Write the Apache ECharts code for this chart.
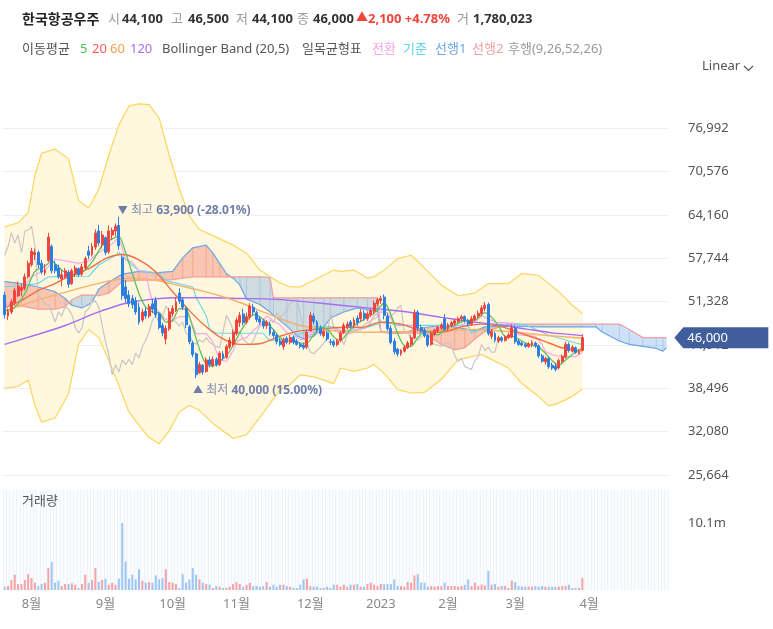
<!DOCTYPE html>
<html>
<head>
<meta charset="utf-8">
<script src="https://cdn.jsdelivr.net/npm/echarts@6/dist/echarts.min.js"></script>
<style>
  html, body { margin: 0; padding: 0; background: #fff; }
  #chart { width: 773px; height: 629px; }
</style>
</head>
<body>
<div id="chart"></div>
<script>
// ---- data ----
// daily candles: [open, close, low, high]
const candles = [
  [52300,49400,48800,52800],[49200,49900,48600,50300],[49800,51300,49500,51700],[51200,53000,50800,53400],
  [52200,53600,52000,54300],[53000,53400,52200,53900],[53300,55000,53000,55500],[55000,57000,54700,57400],
  [56800,58800,56500,59300],[58300,58600,57500,59200],[58600,56800,56300,58900],[57000,55700,55400,57500],
  [55600,56000,55200,56900],[57400,60900,57200,61500],[59500,55900,55500,59800],[56800,55900,55500,57300],
  [56300,55000,54700,56800],[54700,55300,53600,56000],[55000,55900,54800,56300],[55700,53900,53400,56000],
  [54000,55900,53800,56200],[55500,56300,55000,56700],[56200,55300,55000,56400],[55400,56500,55100,56900],
  [56300,57700,56000,58000],[58800,58200,57600,59600],[58300,59500,58000,60000],[59400,61500,59000,62000],
  [61800,60000,59600,62700],[59800,61200,59200,61800],[60800,58600,58200,61000],[58700,61800,58400,62600],
  [61200,61900,60500,62300],[61800,62500,61000,62900],[62600,59600,59000,63900],[57800,52200,51600,58200],
  [53500,51800,51200,54500],[52300,51000,50500,53000],[51800,50900,50300,52300],[51500,49800,49400,52000],
  [50500,48300,47900,51200],[48600,49800,48300,50300],[49900,49200,48800,50500],[49200,50600,48900,51000],
  [51000,50200,49600,51700],[51500,49400,49000,52000],[49500,47500,47200,49700],[47800,46700,46200,48200],
  [45800,47400,45000,47800],[47300,49800,47000,50400],[49500,50300,49100,50800],[50000,51300,49800,51900],
  [52600,51400,51000,53300],[51600,50500,50100,52000],[50300,47900,47400,50600],[47600,45400,45000,47900],
  [45200,43500,43100,45500],[43600,40500,40000,43800],[40800,42000,40600,42400],[41900,40900,40500,42100],
  [41000,42700,40800,43100],[42700,42000,41600,43200],[41900,42800,41600,43200],[42800,42000,41700,43100],
  [42000,43700,41800,44000],[43600,43000,42700,44000],[43100,44700,42900,45000],[44600,45600,44300,46000],
  [45000,46800,44700,47200],[46600,48600,46300,49000],[48200,49300,47600,49800],[49500,48200,47800,50300],
  [48300,49100,48000,49700],[49000,50700,48700,51100],[50500,49800,49300,51000],[49700,48700,48300,50000],
  [48800,48300,47900,49200],[48400,47700,47300,48800],[47800,48300,47300,48600],[48000,46600,46300,48300],
  [46800,46300,46000,47200],[46300,45400,45000,46600],[45500,45000,44700,45900],[44700,45700,44200,46000],
  [45900,45300,45000,46200],[45300,46000,45000,46400],[46000,45300,45000,46300],[45500,45000,44800,45800],
  [45000,44700,44400,45300],[44900,44500,44200,45200],[44600,46800,44300,47200],[47000,49300,46900,49800],
  [49200,48400,48000,49600],[48300,47200,46800,48600],[47300,46600,46300,47800],[46300,46900,46000,47200],
  [46700,45800,45500,47000],[45400,45300,44900,45800],[45400,44900,44600,45700],[45000,45500,44700,45800],
  [45600,46700,45300,47000],[46700,47800,46500,48200],[47600,48000,47200,48400],[48300,47700,47400,48600],
  [47800,48600,47500,49000],[48900,48200,47800,49300],[48800,49700,48300,50200],[49600,48900,48500,50000],
  [48800,49500,48500,49900],[49400,50000,49100,50300],[49900,51100,49500,51500],[51000,51600,50600,51900],
  [51500,51800,51000,52200],[52000,49300,48700,52400],[49200,47300,47000,49600],[47400,45300,45000,47800],
  [45500,43900,43500,45900],[44300,43600,43200,44500],[43600,44100,43300,44300],[44000,44600,43800,44900],
  [44500,45200,44300,45500],[45000,46000,44700,46400],[46000,49700,45800,50200],[49800,47400,47000,50100],
  [47500,47000,46700,47900],[47100,46300,46000,47400],[46300,44900,44600,46600],[45000,46600,44800,46900],
  [46500,47100,46200,47300],[47000,47500,46700,47800],[47400,47900,47100,48200],[48800,47200,47000,49500],
  [47300,47900,47000,48200],[47800,48200,47500,48500],[48100,48500,47800,48800],[48400,48800,48100,49100],
  [48800,49100,48500,49400],[49100,48500,48200,49300],[48500,48000,47700,48800],[48000,48800,47800,49200],
  [48700,49200,48400,49500],[49200,49600,48900,50000],[49500,50400,49200,50800],[50300,50800,49900,51300],
  [50900,46600,46300,51200],[46200,46900,45800,47300],[46600,45600,45300,46900],[45500,46000,45200,46300],
  [46000,45600,45300,46200],[45600,46100,45400,46400],[46000,46400,45800,46700],[46100,47500,45900,48000],
  [47400,45400,45100,47800],[45500,45000,44800,45800],[45200,44900,44700,45400],[45000,44700,44500,45200],
  [44700,45100,44500,45300],[44900,45300,44600,45600],[45200,44800,44500,45400],[44800,43300,43000,45000],
  [43300,42500,42300,43600],[42400,42900,42000,43200],[42900,41700,41400,43200],[41900,41500,41200,42300],
  [41800,41300,41000,42200],[41500,42600,41300,42900],[42500,43200,42200,43500],[43100,45000,42900,45400],
  [45000,44100,43800,45300],[44000,44600,43800,44900],[44500,43800,43600,44700],[43700,43900,43500,44300],
  [44100,46000,44100,46500]
];

// daily volume, millions of shares
const volumes = [
  0.5,0.6,1.5,2.3,0.9,0.9,1.5,2.4,1.8,1.1,0.6,0.9,1.1,3.3,4.2,1.1,1.4,0.6,0.9,0.9,
  1.0,0.8,0.3,0.9,2.3,1.1,1.5,3.3,1.2,1.5,1.7,0.8,1.1,0.8,1.7,10.1,4.3,1.7,2.3,1.6,
  3.1,1.4,1.1,1.2,1.1,2.2,1.6,1.8,3.1,1.2,1.1,0.9,0.3,2.4,1.1,1.6,3.3,2.3,1.6,1.1,
  0.9,0.8,0.3,0.6,0.5,0.3,0.3,0.5,0.9,1.2,0.9,0.5,0.8,1.1,0.6,0.6,0.5,0.6,1.2,0.5,
  0.8,0.5,0.8,0.8,0.6,0.5,0.3,0.3,0.8,1.6,1.7,0.6,0.5,0.5,0.3,0.3,0.5,0.3,0.8,0.8,
  0.5,0.8,0.5,0.8,0.8,0.9,0.5,0.5,0.9,1.1,0.8,0.6,0.9,0.9,0.9,0.9,1.6,0.6,0.6,0.5,
  1.2,1.1,2.2,2.4,1.1,1.1,0.5,0.6,0.5,0.6,0.6,1.1,0.6,0.6,0.6,0.5,0.6,0.8,1.6,0.6,
  1.1,0.6,0.8,0.7,2.9,0.8,0.9,0.5,0.6,0.6,0.3,1.4,1.2,0.6,0.5,0.5,0.5,0.5,0.6,0.5,
  0.6,0.5,0.5,0.5,0.5,0.5,0.6,0.6,0.8,0.3,0.3,0.3,1.78
];

// moving averages, read as [day, value]
const ma5 = [
  [0,50000],[3,50500],[6,52500],[9,55800],[12,56600],[14,57300],[17,56000],[20,55200],[23,55600],
  [26,57200],[29,59600],[32,60600],[34,61000],[36,58600],[38,55500],[40,52500],[42,50500],[44,49800],
  [46,49700],[48,48300],[50,48500],[52,50300],[54,50200],[56,47500],[58,44300],[60,42000],[62,41800],
  [64,42500],[66,43300],[68,44800],[70,46700],[72,48300],[74,49400],[76,49100],[78,48200],[80,47200],
  [82,46000],[84,45500],[86,45600],[88,45200],[90,45200],[92,46400],[94,47500],[96,47300],[98,46100],
  [100,45600],[102,46600],[104,47800],[106,48400],[108,49000],[110,49600],[112,50700],[113,51200],
  [115,49400],[117,46600],[119,44800],[121,44700],[123,46000],[125,46900],[127,46800],[129,46400],
  [131,47300],[134,47900],[137,48500],[140,48600],[143,49700],[145,49000],[147,47800],[149,46200],
  [151,46200],[153,45800],[155,45200],[157,44900],[159,44600],[161,43700],[163,42600],[165,41900],
  [167,42700],[169,43500],[172,44500]
];
const ma20 = [
  [0,50400],[5,51500],[10,53000],[15,54000],[20,55300],[25,56200],[30,57700],[35,58300],[40,57500],
  [45,55700],[50,52800],[55,50000],[60,47600],[65,45800],[70,45000],[76,45100],[82,46200],[88,47000],
  [94,47300],[100,47500],[106,47500],[112,48300],[118,48000],[124,47000],[130,46800],[136,47600],
  [142,48000],[148,47600],[154,46600],[160,45600],[166,44500],[172,44000]
];
const ma60 = [
  [0,49900],[10,51600],[20,53000],[30,54300],[38,54800],[45,54500],[52,53700],[58,53000],[64,52200],
  [70,51200],[76,50000],[82,48800],[88,47800],[94,47300],[100,46900],[110,46800],[120,46900],
  [130,47000],[140,47200],[150,46900],[160,46400],[172,45900]
];
const ma120 = [
  [0,45000],[10,46500],[18,47800],[28,49800],[37,51200],[50,51900],[60,51900],[70,51800],[80,51700],
  [90,51300],[100,50800],[110,50300],[120,49800],[130,49000],[140,48300],[147,47900],[155,47300],
  [163,46700],[172,46300]
];

// Bollinger band (20,5): [day, upper, lower]
const bollinger = [
  [0,62400,38500],[4,63000,38800],[7,64500,39700],[9,70000,36000],[11,73300,33500],[15,73900,34100],
  [19,72500,37700],[22,66300,45000],[25,65200,47200],[28,68000,46000],[31,73000,42600],[34,77500,38900],
  [37,80300,35000],[40,80600,33000],[43,80500,31200],[46,78500,30300],[49,73000,32200],[52,68000,35000],
  [55,64000,36000],[58,62000,35200],[62,61100,33300],[68,59700,31100],[72,58500,31600],[76,56000,34200],
  [82,54100,38300],[85,53500,39100],[88,53500,40500],[92,54500,40200],[98,56000,39200],[100,55800,41500],
  [104,56000,41000],[108,54800,41500],[110,55000,42000],[113,56000,40700],[117,57700,38300],
  [121,58200,37800],[125,56300,37900],[130,53800,39800],[135,52200,42700],[140,52600,43300],
  [142,53300,43500],[144,54000,43000],[150,54000,41500],[154,55500,39200],[159,55200,37300],
  [162,54000,35900],[165,52800,36300],[169,50800,37300],[172,49600,38400]
];

// Ichimoku (9,26,52,26)
const tenkan = [
  [0,50500],[4,52500],[8,55000],[12,56000],[15,57600],[19,57300],[22,57000],[25,57300],[28,58600],
  [31,59500],[34,60800],[36,57600],[38,57100],[40,55900],[42,55900],[43,53200],[44,51200],[45,50400],
  [47,49100],[49,48400],[52,49100],[55,49100],[57,46600],[60,46600],[61,46000],[62,45300],[63,44000],
  [64,42700],[66,42500],[67,43200],[68,44000],[69,45300],[70,45700],[72,46000],[74,47000],[76,47900],
  [78,49200],[80,48500],[82,47900],[84,46700],[86,46400],[88,45700],[90,45700],[92,47000],[100,47100],
  [102,46500],[104,46800],[106,47400],[108,47500],[110,49300],[112,49800],[114,49700],[116,48000],
  [121,47800],[122,46700],[126,46800],[128,47300],[130,47400],[132,47000],[134,47000],[136,47900],
  [138,48200],[140,48300],[142,49200],[144,48800],[146,48300],[152,48100],[153,46400],[158,46200],
  [160,45000],[161,43900],[164,43300],[170,43200],[172,43750]
];
const kijun = [
  [0,53500],[10,54000],[13,55000],[25,55050],[28,56750],[30,57350],[33,58150],[34,58650],[36,57550],
  [40,55900],[46,55550],[48,54450],[56,53500],[57,51950],[60,49250],[61,47250],[63,46650],[77,46650],
  [78,46000],[79,45550],[83,45800],[85,45950],[87,46350],[90,46900],[92,47650],[98,47650],[100,47000],
  [106,47200],[110,47850],[112,48200],[113,48300],[116,47950],[117,47800],[138,47800],[139,46700],
  [144,47550],[146,47950],[152,48050],[155,47900],[160,46800],[162,46350],[166,45800],[170,45200],
  [172,45000]
];
// leading spans, already shifted 25 days ahead: [day, span1, span2]
const cloud = [
  [0,54300,51000],[5,54000,50700],[10,53500,50200],[15,52800,50200],[18,51800,50600],[20,50800,51600],
  [23,50400,52300],[26,51200,52300],[28,53200,52200],[31,54200,52600],[35,55400,54300],[40,55800,54500],
  [45,55600,54500],[50,55800,54600],[53,57800,54800],[56,59300,55000],[60,59700,55000],[62,58500,55000],
  [64,57000,55000],[66,55500,55000],[68,54800,55000],[70,53800,55000],[72,51700,55000],[76,50900,55000],
  [79,49800,54900],[80,49300,51900],[84,47700,51900],[87,46300,51900],[89,45800,51900],[92,46200,51900],
  [95,47600,51900],[97,48900,51900],[101,49800,51900],[105,50400,51900],[108,50100,51900],
  [111,49900,51900],[112,46900,46800],[116,46700,46600],[120,46900,46700],[125,47500,46600],
  [130,47800,45000],[134,47600,44200],[137,47300,44500],[140,47000,45800],[143,47600,46900],
  [150,47700,48000],[160,47600,48000],[172,47600,48000],[176,47600,48000],[178,46800,48000],
  [183,45500,48000],[186,45000,47200],[190,44700,46000],[194,44400,46000],[196,44000,46000],
  [197,44500,46000]
];
const laggingShift = 25;

// axes
const dayCount = 198;   // 173 trading days + 25 days of leading cloud
const categories = Array.from({ length: dayCount }, (_, i) => String(i));
const monthTicks = [[8,'8월'],[30,'9월'],[50,'10월'],[69,'11월'],[91,'12월'],[112,'2023'],[132,'2월'],[152,'3월'],[174,'4월']];
const priceMin = 25664, priceStep = 6416, priceMax = 83400;
const volumeStep = 10.1, volumeMax = 15.07;

const high = { day: 34, value: 63900, text: '63,900 (-28.01%)' };
const low = { day: 57, value: 40000, text: '40,000 (15.00%)' };
const last = { value: 46000, text: '46,000' };

// ---- chart ----
const FONT = "'Noto Sans', 'Noto Sans CJK KR', sans-serif";
const UP = '#f0443c', DOWN = '#2c7fe0';

const chart = echarts.init(document.getElementById('chart'));

function segments(rows) {
  const out = [];
  for (let k = 0; k < rows.length - 1; k++) {
    const a = rows[k], b = rows[k + 1];
    out.push([a[0], a[1], a[2], b[0], b[1], b[2]]);
  }
  return out;
}

function fillBetween(colorOf) {
  return function (params, api) {
    const p0 = api.coord([api.value(0), api.value(1)]);
    const p1 = api.coord([api.value(3), api.value(4)]);
    const q1 = api.coord([api.value(3), api.value(5)]);
    const q0 = api.coord([api.value(0), api.value(2)]);
    const fill = colorOf(api.value(1) + api.value(4), api.value(2) + api.value(5));
    return {
      type: 'polygon',
      shape: { points: [p0, p1, q1, q0] },
      style: { fill: fill, stroke: fill, lineWidth: 0.6 }
    };
  };
}

function lineSeries(name, data, color, width, z, smooth) {
  return {
    name: name, type: 'line', data: data, xAxisIndex: 0, yAxisIndex: 0,
    showSymbol: false, smooth: smooth === undefined ? 0.25 : smooth, z: z || 3, silent: true,
    lineStyle: { color: color, width: width || 1.2 }
  };
}

const volumeData = volumes.map((v, i) => ({
  value: v,
  itemStyle: { color: candles[i][1] >= candles[i][0] ? '#f5a3a5' : '#9ec6f5' }
}));

const lagging = candles
  .map((c, i) => [i - laggingShift, c[1]])
  .filter(p => p[0] >= 0);

const headerTop = [
  [22, '한국항공우주', '#222', 'bold', 14],
  [108, '시', '#999', 'normal', 13], [122, '44,100', '#333', 'bold', 13],
  [171, '고', '#999', 'normal', 13], [188, '46,500', '#333', 'bold', 13],
  [236, '저', '#999', 'normal', 13], [252, '44,100', '#333', 'bold', 13],
  [297, '종', '#999', 'normal', 13], [313, '46,000', '#333', 'bold', 13],
  [356, '▲', UP, 'normal', 12], [368, '2,100 +4.78%', UP, 'bold', 13],
  [457, '거', '#999', 'normal', 13], [473, '1,780,023', '#333', 'bold', 13]
];
const headerLegend = [
  [22, '이동평균', '#555'], [80, '5', '#4cbf4c'], [92, '20', '#f25c5c'], [110, '60', '#f7a04b'],
  [130, '120', '#a46ff2'], [162, 'Bollinger Band (20,5)', '#555'], [302, '일목균형표', '#555'],
  [372, '전환', '#f7a3e4'], [403, '기준', '#5fd2e8'], [435, '선행1', '#6aa6ec'], [472, '선행2', '#f29d9d'],
  [508, '후행(9,26,52,26)', '#999']
];

const graphics = [];
headerTop.forEach(h => graphics.push({
  type: 'text', left: h[0], top: 13,
  style: { text: h[1], fill: h[2], font: h[3] + ' ' + h[4] + 'px ' + FONT }
}));
headerLegend.forEach(h => graphics.push({
  type: 'text', left: h[0], top: 43,
  style: { text: h[1], fill: h[2], font: '13px ' + FONT }
}));
graphics.push(
  { type: 'text', left: 702, top: 60, style: { text: 'Linear', fill: '#555', font: '13px ' + FONT } },
  { type: 'polyline', shape: { points: [[744, 66], [748.5, 70.5], [753, 66]] }, style: { stroke: '#555', lineWidth: 1.2, fill: null } },
  { type: 'text', left: 22, top: 495, z: 10, style: { text: '거래량', fill: '#555', font: '13px ' + FONT } }
);

const option = {
  animation: false,
  backgroundColor: '#fff',
  textStyle: { fontFamily: FONT },
  graphic: graphics,
  grid: [
    { left: 3, right: 105, top: 85, height: 390 },
    { left: 3, right: 105, top: 490, height: 100, show: true, backgroundColor: '#fbfcfe', borderWidth: 0 }
  ],
  xAxis: [
    {
      type: 'category', gridIndex: 0, data: categories, boundaryGap: true,
      axisLine: { show: false }, axisTick: { show: false }, axisLabel: { show: false }, splitLine: { show: false }
    },
    {
      type: 'category', gridIndex: 1, data: categories, boundaryGap: true,
      axisLine: { show: false }, axisTick: { show: false },
      splitLine: { show: true, interval: 0, lineStyle: { color: '#eef2f9', width: 1 } },
      axisLabel: {
        color: '#888', fontSize: 13, margin: 8,
        interval: idx => monthTicks.some(t => t[0] === idx),
        formatter: (v, idx) => { const t = monthTicks.find(m => m[0] === idx); return t ? t[1] : ''; }
      }
    }
  ],
  yAxis: [
    {
      type: 'value', gridIndex: 0, position: 'right', min: priceMin, max: priceMax, interval: priceStep,
      axisLine: { show: false }, axisTick: { show: false },
      splitLine: { show: true, showMaxLine: false, lineStyle: { color: '#efefef' } },
      axisLabel: {
        color: '#555', fontSize: 13, margin: 20, showMaxLabel: false,
        formatter: v => ((v - priceMin) % priceStep === 0 ? v.toLocaleString('en-US') : '')
      }
    },
    {
      type: 'value', gridIndex: 1, position: 'right', min: 0, max: volumeMax, interval: volumeStep,
      axisLine: { show: false }, axisTick: { show: false }, splitLine: { show: false },
      axisLabel: {
        color: '#555', fontSize: 13, margin: 20, showMinLabel: false, showMaxLabel: false,
        formatter: v => v.toFixed(1) + 'm'
      }
    }
  ],
  series: [
    {
      name: 'bollinger fill', type: 'custom', xAxisIndex: 0, yAxisIndex: 0, z: 1, silent: true,
      data: segments(bollinger), encode: { x: [0, 3], y: [1, 2, 4, 5] },
      renderItem: fillBetween(() => '#fff7de')
    },
    {
      name: 'cloud fill', type: 'custom', xAxisIndex: 0, yAxisIndex: 0, z: 2, silent: true,
      data: segments(cloud), encode: { x: [0, 3], y: [1, 2, 4, 5] },
      renderItem: fillBetween((s1, s2) => s1 >= s2 ? 'rgba(240,120,104,0.38)' : 'rgba(104,162,230,0.32)')
    },
    lineSeries('upper', bollinger.map(r => [r[0], r[1]]), '#fcd55e', 1.2, 2, false),
    lineSeries('lower', bollinger.map(r => [r[0], r[2]]), '#fcd55e', 1.2, 2, false),
    lineSeries('선행1', cloud.map(r => [r[0], r[1]]), '#6fa8e8', 1.2, 3, false),
    lineSeries('선행2', cloud.map(r => [r[0], r[2]]), '#f2a0a0', 1.2, 3, false),
    lineSeries('후행', lagging, '#c6c6c6', 1.2, 3, false),
    lineSeries('기준', kijun, '#6fd8ea', 1.2, 3, false),
    lineSeries('전환', tenkan, '#fba6e6', 1.2, 3, false),
    lineSeries('MA120', ma120, '#a86cf2', 1.4, 4),
    lineSeries('MA60', ma60, '#f9b26c', 1.4, 4),
    lineSeries('MA20', ma20, '#f2703f', 1.4, 4),
    lineSeries('MA5', ma5, '#5cc05c', 1.3, 4),
    {
      name: 'price', type: 'candlestick', xAxisIndex: 0, yAxisIndex: 0, z: 5,
      data: candles, barWidth: '72%',
      itemStyle: { color: UP, color0: DOWN, borderColor: UP, borderColor0: DOWN, borderWidth: 1 },
      markPoint: {
        silent: true,
        data: [
          {
            coord: [high.day, high.value], symbolSize: 0,
            label: {
              show: true, position: 'right', offset: [-6, -6],
              formatter: '{a|▼} {b|최고} {c|' + high.text + '}',
              rich: {
                a: { color: '#6e7ea8', fontSize: 10 },
                b: { color: '#7d8bb0', fontSize: 12, fontFamily: FONT },
                c: { color: '#6e7ea8', fontSize: 12, fontWeight: 'bold', fontFamily: FONT }
              }
            }
          },
          {
            coord: [low.day, low.value], symbolSize: 0,
            label: {
              show: true, position: 'right', offset: [-8, 12],
              formatter: '{a|▲} {b|최저} {c|' + low.text + '}',
              rich: {
                a: { color: '#6e7ea8', fontSize: 10 },
                b: { color: '#7d8bb0', fontSize: 12, fontFamily: FONT },
                c: { color: '#6e7ea8', fontSize: 12, fontWeight: 'bold', fontFamily: FONT }
              }
            }
          },
          {
            coord: [dayCount - 1, last.value],
            symbol: 'path://M0,10L9,0L94,0L94,20L9,20Z', symbolKeepAspect: false,
            symbolSize: [94, 21], symbolOffset: [55, 0],
            itemStyle: { color: '#405e9c' },
            label: {
              show: true, position: [13, 11], align: 'left', verticalAlign: 'middle',
              color: '#fff', fontSize: 13, formatter: last.text
            }
          }
        ]
      }
    },
    {
      name: 'volume', type: 'bar', xAxisIndex: 1, yAxisIndex: 1, data: volumeData,
      barWidth: 2, silent: true
    }
  ]
};

chart.setOption(option);
</script>
</body>
</html>
